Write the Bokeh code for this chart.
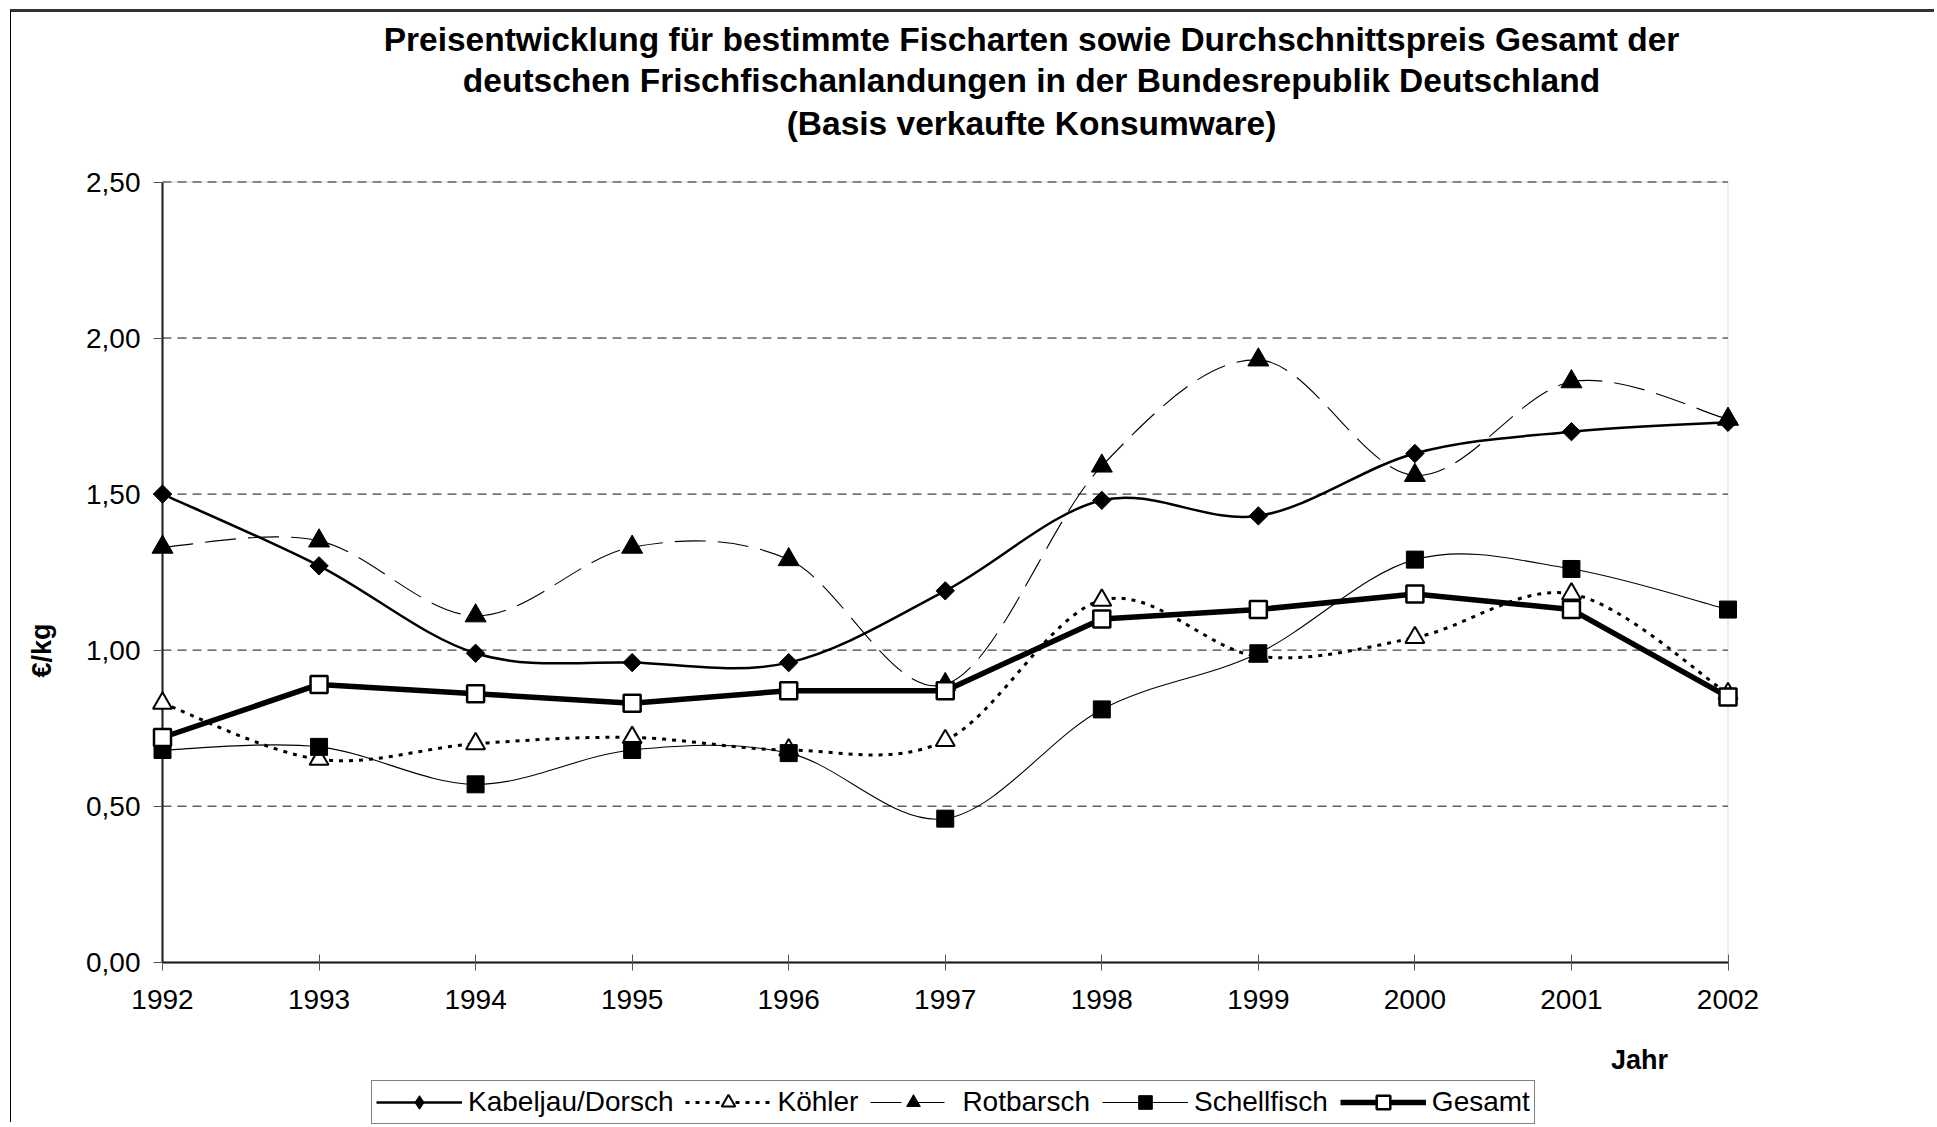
from bokeh.plotting import figure
from bokeh.models import (ColumnDataSource, FixedTicker, Legend, LegendItem,
                          Label, Range1d, LinearAxis, BoxAnnotation)
from bokeh.embed import file_html
from bokeh.resources import INLINE

# ---------------- data ----------------
years = [1992, 1993, 1994, 1995, 1996, 1997, 1998, 1999, 2000, 2001, 2002]
kabeljau = [1.50, 1.27, 0.99, 0.96, 0.96, 1.19, 1.48, 1.43, 1.63, 1.70, 1.73]
koehler = [0.83, 0.65, 0.70, 0.72, 0.68, 0.71, 1.16, 0.98, 1.04, 1.18, 0.86]
rotbarsch = [1.33, 1.35, 1.11, 1.33, 1.29, 0.89, 1.59, 1.93, 1.56, 1.86, 1.74]
schellfisch = [0.68, 0.69, 0.57, 0.68, 0.67, 0.46, 0.81, 0.99, 1.29, 1.26, 1.13]
gesamt = [0.72, 0.89, 0.86, 0.83, 0.87, 0.87, 1.10, 1.13, 1.18, 1.13, 0.85]

series_names = ["Kabeljau/Dorsch", "Köhler", "Rotbarsch", "Schellfisch", "Gesamt"]
y_ticks = [0.0, 0.5, 1.0, 1.5, 2.0, 2.5]
y_tick_labels = ["0,00", "0,50", "1,00", "1,50", "2,00", "2,50"]
title_lines = [
    "Preisentwicklung für bestimmte Fischarten sowie Durchschnittspreis Gesamt der",
    "deutschen Frischfischanlandungen in der Bundesrepublik Deutschland",
    "(Basis verkaufte Konsumware)",
]
x_label = "Jahr"
y_label = "€/kg"

FONT = "Liberation Sans"

# ---------------- layout (page pixels) ----------------
W, H = 1924, 1113            # canvas size
CX0, CY0 = 11, 12            # canvas origin on the page (margin + border)
PL, PR, PT, PB = 162.0, 1727.5, 181.5, 961.7   # plot area edges on page
ppx = (PR - PL) / (years[-1] - years[0])
ppy = (PB - PT) / (y_ticks[-1] - y_ticks[0])
x_start = years[0] - (PL - CX0) / ppx
x_end = x_start + W / ppx
y_end = y_ticks[0] + (PB - CY0) / ppy
y_start = y_end - H / ppy


def to_data(px, py):
    return x_start + (px - CX0) / ppx, y_end - (py - CY0) / ppy


def smooth_source(xs, ys):
    """Bezier segments (Excel-style smoothed line) through the data points."""
    n = len(xs)
    d = dict(x0=[], y0=[], x1=[], y1=[], cx0=[], cy0=[], cx1=[], cy1=[])
    for i in range(n - 1):
        im1 = max(i - 1, 0)
        ip2 = min(i + 2, n - 1)
        d["x0"].append(xs[i]); d["y0"].append(ys[i])
        d["x1"].append(xs[i + 1]); d["y1"].append(ys[i + 1])
        d["cx0"].append(xs[i] + (xs[i + 1] - xs[im1]) / 6.0)
        d["cy0"].append(ys[i] + (ys[i + 1] - ys[im1]) / 6.0)
        d["cx1"].append(xs[i + 1] - (xs[ip2] - xs[i]) / 6.0)
        d["cy1"].append(ys[i + 1] - (ys[ip2] - ys[i]) / 6.0)
    return ColumnDataSource(d)


p = figure(width=W, height=H, min_border=0,
           x_range=Range1d(x_start, x_end), y_range=Range1d(y_start, y_end),
           x_axis_location=None, y_axis_location=None,
           output_backend="svg", toolbar_location=None)
p.styles = {"margin-left": "10px", "margin-top": "9px",
            "border-top": "3px solid #333333", "border-left": "1px solid #000000"}
p.background_fill_color = "white"
p.border_fill_color = "white"
p.outline_line_color = None
p.xgrid.visible = False
p.ygrid.visible = False

# plot-area frame (top / right edges, grey)
p.add_layout(BoxAnnotation(left=years[0], right=years[-1], bottom=y_ticks[0],
                           top=y_ticks[-1], fill_alpha=0, line_color="#808080",
                           line_width=1, level="underlay"))

# dashed horizontal gridlines
p.segment(x0=[years[0]] * (len(y_ticks) - 1), x1=[years[-1]] * (len(y_ticks) - 1),
          y0=y_ticks[1:], y1=y_ticks[1:], line_color="#111111", line_width=1,
          line_dash="9 6", level="underlay")

# axes
xaxis = LinearAxis(fixed_location=y_ticks[0], bounds=(years[0], years[-1]))
xaxis.ticker = FixedTicker(ticks=years)
xaxis.major_tick_in = 8
xaxis.major_tick_out = 8
xaxis.minor_tick_line_color = None
xaxis.major_tick_line_color = "#555555"
xaxis.axis_line_width = 2
xaxis.axis_line_color = "black"
xaxis.major_label_text_font = FONT
xaxis.major_label_text_font_size = "28px"
xaxis.major_label_text_color = "black"
xaxis.major_label_standoff = 20
xaxis.level = "underlay"
p.add_layout(xaxis, "below")

yaxis = LinearAxis(fixed_location=years[0], bounds=(y_ticks[0], y_ticks[-1]))
yaxis.ticker = FixedTicker(ticks=y_ticks)
yaxis.major_label_overrides = {t: l for t, l in zip(y_ticks, y_tick_labels)}
yaxis.major_tick_in = 0
yaxis.major_tick_out = 9
yaxis.minor_tick_line_color = None
yaxis.major_tick_line_color = "#555555"
yaxis.axis_line_width = 2
yaxis.axis_line_color = "black"
yaxis.major_label_text_font = FONT
yaxis.major_label_text_font_size = "28px"
yaxis.major_label_text_color = "black"
yaxis.major_label_standoff = 13
yaxis.level = "underlay"
p.add_layout(yaxis, "left")

# series
bz = dict(x0="x0", y0="y0", x1="x1", y1="y1", cx0="cx0", cy0="cy0",
          cx1="cx1", cy1="cy1")
r_k_line = p.bezier(source=smooth_source(years, kabeljau), line_color="black",
                    line_width=2.5, **bz)
# diamond shape (used by the legend), covered by the rotated square below
r_k_leg = p.scatter(years, kabeljau, marker="diamond", size=12,
                    fill_color="black", line_color="black")
r_k_pts = p.scatter(years, kabeljau, marker="square", angle=0.7854, size=13,
                    fill_color="black", line_color="black")

r_ko_line = p.bezier(source=smooth_source(years, koehler), line_color="black",
                     line_width=3, line_dash="4 6", **bz)
r_ko_pts = p.scatter(years, koehler, marker="triangle", size=19,
                     fill_color="white", line_color="black", line_width=2)

r_r_line = p.bezier(source=smooth_source(years, rotbarsch), line_color="black",
                    line_width=1.1, line_dash="31 12", **bz)
r_r_pts = p.scatter(years, rotbarsch, marker="triangle", size=21,
                    fill_color="black", line_color="black")

r_s_line = p.bezier(source=smooth_source(years, schellfisch), line_color="black",
                    line_width=1.1, **bz)
r_s_pts = p.scatter(years, schellfisch, marker="square", size=17,
                    fill_color="black", line_color="black")

r_g_line = p.line(years, gesamt, line_color="black", line_width=5.5)
r_g_pts = p.scatter(years, gesamt, marker="square", size=17,
                    fill_color="white", line_color="black", line_width=2.5)

legend = Legend(items=[
    LegendItem(label=series_names[0], renderers=[r_k_line, r_k_leg]),
    LegendItem(label=series_names[1], renderers=[r_ko_line, r_ko_pts]),
    LegendItem(label=series_names[2], renderers=[r_r_line, r_r_pts]),
    LegendItem(label=series_names[3], renderers=[r_s_line, r_s_pts]),
    LegendItem(label=series_names[4], renderers=[r_g_line, r_g_pts]),
], location=(371 - CX0, (CY0 + H) - 1124), orientation="horizontal")
legend.border_line_color = "black"
legend.border_line_width = 1.5
legend.background_fill_color = "white"
legend.padding = 4
legend.spacing = 12
legend.margin = 0
legend.glyph_width = 86
legend.glyph_height = 34
legend.label_height = 30
legend.label_standoff = 6
legend.label_text_font = FONT
legend.label_text_font_size = "28px"
legend.label_text_color = "black"
p.add_layout(legend)

# title lines, centred over the chart area
for line, base_y in zip(title_lines, [39, 80, 123]):
    tx, ty = to_data(1031, base_y)
    p.add_layout(Label(x=tx, y=ty, text=line, text_font=FONT,
                       text_font_size="33.5px", text_font_style="bold",
                       text_align="center", text_baseline="alphabetic",
                       text_color="black"))

jx, jy = to_data(1639, 1059)
p.add_layout(Label(x=jx, y=jy, text=x_label, text_font=FONT,
                   text_font_size="27px", text_font_style="bold",
                   text_align="center", text_baseline="middle", text_color="black"))
ex, ey = to_data(41, 650)
p.add_layout(Label(x=ex, y=ey, text=y_label, text_font=FONT,
                   text_font_size="27px", text_font_style="bold", angle=1.5708,
                   text_align="center", text_baseline="middle", text_color="black"))

open("out.html", "w").write(file_html(p, INLINE))
